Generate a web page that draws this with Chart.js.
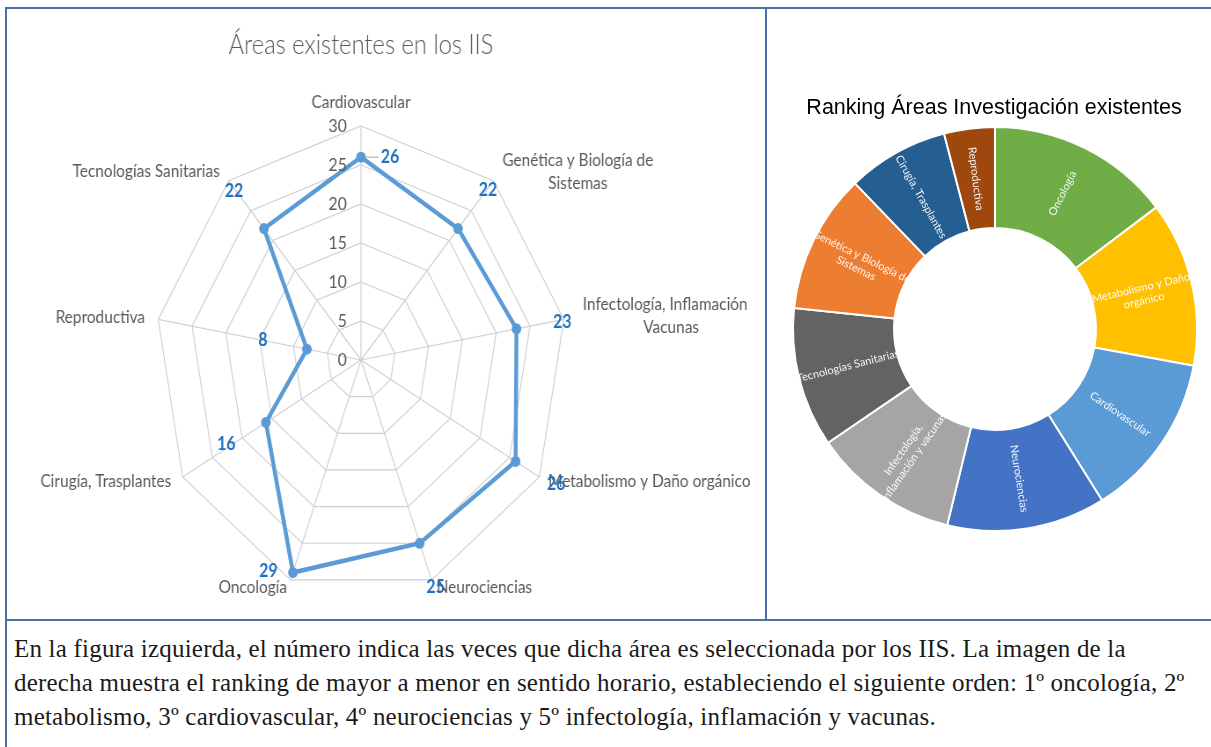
<!DOCTYPE html>
<html>
<head>
<meta charset="utf-8">
<script src="https://cdn.jsdelivr.net/npm/chart.js@4.4.1/dist/chart.umd.min.js"></script>
<style>
    body { margin: 0; background: #fff; width: 1211px; height: 747px; overflow: hidden; position: relative; }
    .line { position: absolute; background: #4a6fa5; }
    #radarChart { position: absolute; left: 9px; top: 9px; transform: scaleX(0.88); transform-origin: 0 0; }
    #rankChart { position: absolute; left: 770px; top: 9px; }
    #caption {
        position: absolute; left: 14px; top: 632px; width: 1195px;
        font-family: "Liberation Serif", serif; font-size: 25px; line-height: 34px; color: #1a1a1a;
        letter-spacing: 0.2px; white-space: nowrap;
    }
</style>
</head>
<body>
<div class="line" style="left:5px; top:7px; width:1206px; height:2px;"></div>
<div class="line" style="left:5px; top:7px; width:2px; height:740px;"></div>
<div class="line" style="left:765px; top:7px; width:2px; height:614px;"></div>
<div class="line" style="left:5px; top:619px; width:1206px; height:2px;"></div>

<canvas id="radarChart" width="842" height="610"></canvas>
<canvas id="rankChart" width="441" height="610"></canvas>

<div id="caption">En la figura izquierda, el número indica las veces que dicha área es seleccionada por los IIS. La imagen de la<br>derecha muestra el ranking de mayor a menor en sentido horario, estableciendo el siguiente orden: 1º oncología, 2º<br>metabolismo, 3º cardiovascular, 4º neurociencias y 5º infectología, inflamación y vacunas.</div>

<script>
// Data - radar (left)
const radarTitle = 'Áreas existentes en los IIS';
const areas = ['Cardiovascular', 'Genética y Biología de Sistemas', 'Infectología, Inflamación y Vacunas',
    'Metabolismo y Daño orgánico', 'Neurociencias', 'Oncología', 'Cirugía, Trasplantes',
    'Reproductiva', 'Tecnologías Sanitarias'];
const areaLines = [['Cardiovascular'], ['Genética y Biología de', 'Sistemas'], ['Infectología, Inflamación y', 'Vacunas'],
    ['Metabolismo y Daño orgánico'], ['Neurociencias'], ['Oncología'], ['Cirugía, Trasplantes'],
    ['Reproductiva'], ['Tecnologías Sanitarias']];
const counts = [26, 22, 23, 26, 25, 29, 16, 8, 22];
const radarMax = 30;
const radarStep = 5;

// Data - ranking doughnut (right)
const rankTitle = 'Ranking Áreas Investigación existentes';
const rankAreas = ['Oncología', 'Metabolismo y Daño orgánico', 'Cardiovascular', 'Neurociencias',
    'Infectología, inflamación y vacunas', 'Tecnologías Sanitarias', 'Genética y Biología de Sistemas',
    'Cirugía, Trasplantes', 'Reproductiva'];
const rankLines = [['Oncología'], ['Metabolismo y Daño', 'orgánico'], ['Cardiovascular'], ['Neurociencias'],
    ['Infectología,', 'inflamación y vacunas'], ['Tecnologías Sanitarias'], ['Genética y Biología de', 'Sistemas'],
    ['Cirugía, Trasplantes'], ['Reproductiva']];
const rankValues = [29, 26, 26, 25, 23, 22, 22, 16, 8];
const rankColors = ['#70ad47', '#ffc000', '#5b9bd5', '#4472c4', '#a5a5a5', '#636363', '#ed7d31', '#255e91', '#9e480e'];

// label placement tweaks (px, unscaled canvas space)
const axisLabelStyle = [
    { align: 'center', dx: 0, dy: -24 },
    { align: 'center', dx: 96, dy: -20 },
    { align: 'center', dx: 122, dy: -15 },
    { align: 'left', dx: 10, dy: 4 },
    { align: 'left', dx: 6, dy: 7 },
    { align: 'right', dx: -4, dy: 7 },
    { align: 'right', dx: -13, dy: 4 },
    { align: 'right', dx: -15, dy: -2 },
    { align: 'right', dx: -10, dy: -9 }
];
const valueLabelOffset = [[33, 0], [34, -38], [52, -7], [46, 23], [18, 44], [-28, -1], [-45, 22], [-50, -9], [-34, -37]];

const grey = '#595959';

const radarText = {
    id: 'radarText',
    afterDraw(chart) {
        const ctx = chart.ctx;
        const scale = chart.scales.r;
        ctx.save();
        // title
        ctx.fillStyle = grey;
        ctx.font = '300 27px Lato';
        ctx.textAlign = 'center';
        ctx.textBaseline = 'middle';
        ctx.fillText(radarTitle, scale.xCenter, 36);

        // tick labels, left of the vertical axis
        ctx.font = '18px Lato';
        ctx.textAlign = 'right';
        scale.ticks.forEach(t => {
            const y = scale.yCenter - scale.getDistanceFromCenterForValue(t.value);
            ctx.fillText(String(t.value), scale.xCenter - 16, y);
        });

        // axis labels
        ctx.font = '17.5px Lato';
        areaLines.forEach((lines, i) => {
            const p = scale.getPointPosition(i, scale.drawingArea);
            const st = axisLabelStyle[i];
            ctx.textAlign = st.align;
            lines.forEach((ln, k) => ctx.fillText(ln, p.x + st.dx, p.y + st.dy + k * 23));
        });

        // value labels
        const meta = chart.getDatasetMeta(0);
        ctx.font = 'bold 18px Lato';
        ctx.fillStyle = '#1f70c1';
        ctx.textAlign = 'center';
        meta.data.forEach((pt, i) => {
            const o = valueLabelOffset[i];
            ctx.fillText(String(counts[i]), pt.x + o[0], pt.y + o[1]);
        });
        // leader line for the top label
        const p0 = meta.data[0];
        ctx.strokeStyle = '#a6a6a6';
        ctx.lineWidth = 1;
        ctx.beginPath();
        ctx.moveTo(p0.x + 6, p0.y);
        ctx.lineTo(p0.x + 20, p0.y);
        ctx.stroke();
        ctx.restore();
    }
};

new Chart(document.getElementById('radarChart'), {
    type: 'radar',
    data: {
        labels: areas,
        datasets: [{
            data: counts,
            borderColor: '#5b9bd5',
            backgroundColor: '#5b9bd5',
            borderWidth: 4.5,
            pointRadius: 5.5,
            pointBackgroundColor: '#5b9bd5',
            pointBorderWidth: 0,
            fill: false,
            tension: 0
        }]
    },
    options: {
        responsive: false,
        animation: false,
        layout: { padding: { left: 166, right: 208, top: 117, bottom: 25 } },
        plugins: { legend: { display: false }, tooltip: { enabled: false } },
        scales: {
            r: {
                min: 0,
                max: radarMax,
                ticks: { stepSize: radarStep, display: false },
                grid: { color: '#d0d0d0', lineWidth: 1.2 },
                angleLines: { color: '#d0d0d0', lineWidth: 1.2 },
                pointLabels: { display: false }
            }
        }
    },
    plugins: [radarText]
});

const rankText = {
    id: 'rankText',
    afterDatasetsDraw(chart) {
        const ctx = chart.ctx;
        const meta = chart.getDatasetMeta(0);
        ctx.save();
        ctx.fillStyle = '#000';
        ctx.font = '21.5px "Liberation Sans"';
        ctx.textAlign = 'center';
        ctx.textBaseline = 'middle';
        ctx.fillText(rankTitle, 224, 99);

        ctx.font = '11px Lato';
        ctx.fillStyle = 'rgba(255,255,255,0.92)';
        meta.data.forEach((arc, i) => {
            const a = arc.getProps(['x', 'y', 'startAngle', 'endAngle', 'innerRadius', 'outerRadius']);
            const mid = (a.startAngle + a.endAngle) / 2;
            const r = (a.innerRadius + a.outerRadius) / 2;
            let rot = mid;
            if (rot > Math.PI / 2) rot -= Math.PI;
            ctx.save();
            ctx.translate(a.x + Math.cos(mid) * r, a.y + Math.sin(mid) * r);
            ctx.rotate(rot);
            const lines = rankLines[i];
            lines.forEach((ln, k) => ctx.fillText(ln, 0, (k - (lines.length - 1) / 2) * 13));
            ctx.restore();
        });
        ctx.restore();
    }
};

new Chart(document.getElementById('rankChart'), {
    type: 'doughnut',
    data: {
        labels: rankAreas,
        datasets: [{
            data: rankValues,
            backgroundColor: rankColors,
            borderColor: '#ffffff',
            borderWidth: 2
        }]
    },
    options: {
        responsive: false,
        animation: false,
        cutout: '50%',
        layout: { padding: { left: 22, right: 13, top: 117, bottom: 87 } },
        plugins: { legend: { display: false }, tooltip: { enabled: false } }
    },
    plugins: [rankText]
});
</script>
</body>
</html>
